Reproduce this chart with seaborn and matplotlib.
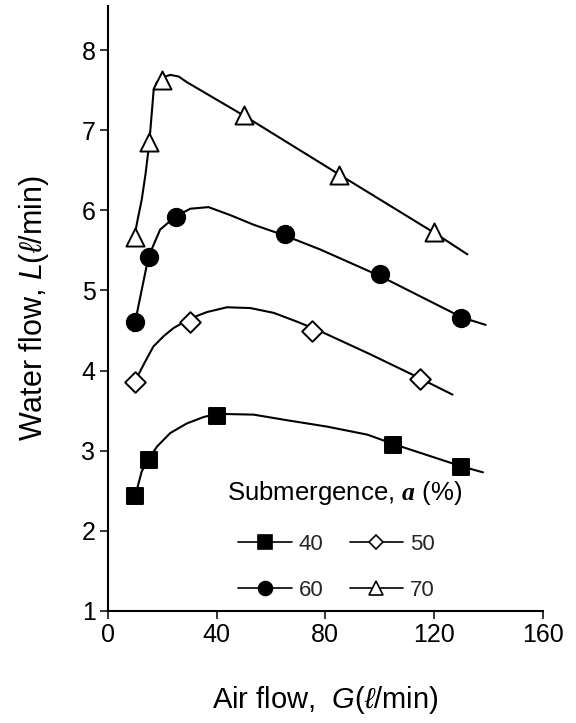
import numpy as np
import pandas as pd
import matplotlib
matplotlib.use("Agg")
import matplotlib.pyplot as plt
import seaborn as sns
from matplotlib.lines import Line2D

air_40 = [10, 15, 40, 105, 130]
water_40 = [2.43, 2.88, 3.43, 3.07, 2.80]
air_50 = [10, 30, 75, 115]
water_50 = [3.86, 4.61, 4.49, 3.90]
air_60 = [10, 15, 25, 65, 100, 130]
water_60 = [4.61, 5.42, 5.92, 5.70, 5.20, 4.65]
air_70 = [10, 15, 20, 50, 85, 120]
water_70 = [5.67, 6.85, 7.63, 7.19, 6.44, 5.73]

# fitted curves
fit_x_40 = [10, 12.4, 14.9, 18, 22.9, 29, 35.2, 40.1, 53.6, 65.9, 80.7, 95.5, 105.3, 130.5, 138]
fit_y_40 = [2.43, 2.74, 2.89, 3.05, 3.22, 3.34, 3.42, 3.46, 3.45, 3.38, 3.30, 3.20, 3.08, 2.80, 2.73]
fit_x_50 = [10, 13.5, 16.7, 20.5, 24.1, 30.3, 36.4, 43.8, 52.4, 61, 69.6, 78.2, 96.1, 111.4, 126.8]
fit_y_50 = [3.87, 4.10, 4.30, 4.43, 4.53, 4.65, 4.73, 4.79, 4.78, 4.72, 4.61, 4.49, 4.21, 3.96, 3.70]
fit_x_60 = [9.3, 14.9, 19.2, 24.7, 30.3, 37, 45, 53.6, 64.7, 78.2, 100.1, 130.5, 139]
fit_y_60 = [4.49, 5.42, 5.76, 5.92, 6.02, 6.04, 5.94, 5.82, 5.69, 5.51, 5.18, 4.66, 4.57]
fit_x_70 = [9.6, 11.0, 12.4, 13.8, 15.2, 16.8, 18, 20, 23, 26, 29, 50.6, 85.9, 121, 132.3]
fit_y_70 = [5.65, 5.90, 6.13, 6.45, 6.84, 7.50, 7.60, 7.66, 7.69, 7.67, 7.60, 7.17, 6.43, 5.70, 5.45]

labels = ["40", "50", "60", "70"]
markers = ["s", "D", "o", "^"]
fills = ["k", "white", "k", "white"]
sizes = [12, 10.5, 12.5, 13]

points = [(air_40, water_40), (air_50, water_50), (air_60, water_60), (air_70, water_70)]
fits = [(fit_x_40, fit_y_40), (fit_x_50, fit_y_50), (fit_x_60, fit_y_60), (fit_x_70, fit_y_70)]

sns.set_style("ticks")
plt.rcParams["font.family"] = ["Liberation Sans", "DejaVu Sans"]
plt.rcParams["mathtext.fontset"] = "custom"
plt.rcParams["mathtext.rm"] = "Liberation Sans"
plt.rcParams["mathtext.it"] = "Liberation Sans:italic"
plt.rcParams["mathtext.bf"] = "Liberation Serif:italic:bold"

fig = plt.figure(figsize=(5.76, 7.23), dpi=100)
ax = fig.add_axes([0.1875, 0.155, 0.7547, 0.8367])

for (fx, fy), (px, py), m, fc, s in zip(fits, points, markers, fills, sizes):
    sns.lineplot(x=fx, y=fy, ax=ax, color="k", lw=1.5, sort=False, estimator=None)
    sns.scatterplot(x=px, y=py, ax=ax, marker=m, s=s ** 2, color=fc,
                    edgecolor="k", linewidth=1.4, zorder=3)

ax.set_xlim(0, 160)
ax.set_ylim(1, 8.55)
ax.set_xticks([0, 40, 80, 120, 160])
ax.set_yticks([1, 2, 3, 4, 5, 6, 7, 8])
ax.tick_params(labelsize=18, length=6, width=1.1, color="k", labelcolor="k", pad=3)
for side in ["top", "right"]:
    ax.spines[side].set_visible(False)
for side in ["left", "bottom"]:
    ax.spines[side].set_linewidth(1.5)
    ax.spines[side].set_color("k")

ax.set_xlabel(r"Air flow,  $\mathit{G}$($\ell$/min)", fontsize=21, labelpad=26, color="k")
ax.set_ylabel(r"Water flow, $\mathit{L}$($\ell$/min)", fontsize=22, labelpad=22, color="k")

ax.text(0.274, 0.195, r"Submergence, $\mathbf{a}$ (%)", transform=ax.transAxes,
        fontsize=18.5, ha="left", va="center", color="k")

# legend fills columns first: reorder so rows read 40 50 / 60 70
order = [0, 2, 1, 3]
handles = [Line2D([], [], color="k", lw=1.2, marker=markers[i], markersize=[10, 7.5, 10, 10][i],
                  mfc=fills[i], mec="k", mew=1.2) for i in order]
ax.legend(handles, [labels[i] for i in order], ncol=2, frameon=False, loc="upper left",
          bbox_to_anchor=(0.30, 0.127), borderpad=0, borderaxespad=0,
          fontsize=16, handlelength=2.4, handletextpad=0.3, columnspacing=1.2,
          labelspacing=1.1)

fig.savefig("out.png", dpi=100)
